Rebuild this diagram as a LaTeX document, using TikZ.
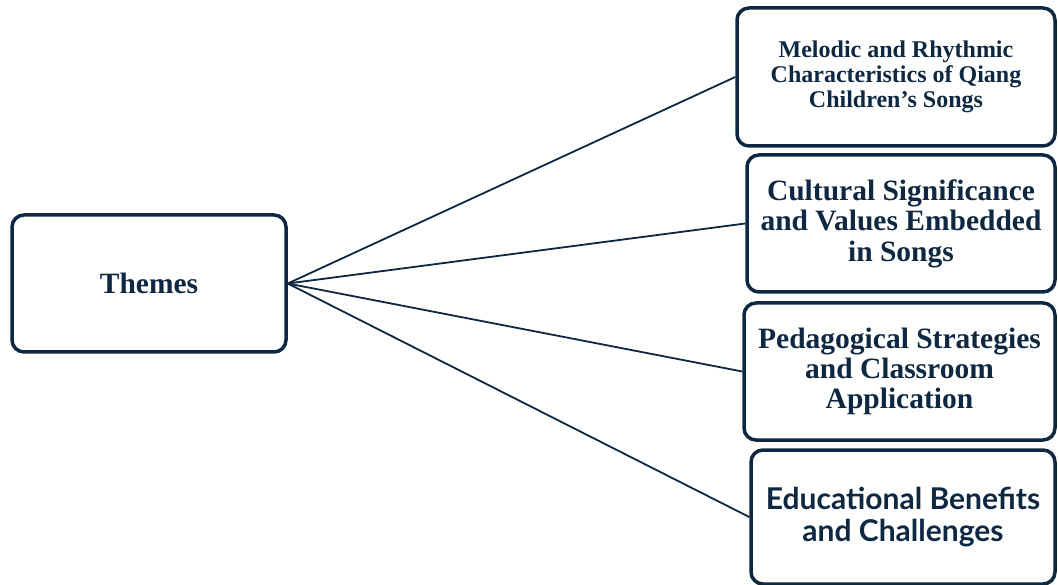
\documentclass[tikz,border=0pt]{standalone}
\usepackage{fontspec}
\setmainfont{Liberation Serif}
\newfontfamily\themesans{Lato}
\definecolor{themenavy}{HTML}{0E2841}

\begin{document}
\begin{tikzpicture}[x=1pt,y=-1pt,
    box/.style={draw=themenavy,line width=3.5pt,rounded corners=12pt,align=center,text=themenavy,inner sep=0pt},
    link/.style={draw=themenavy,line width=1.8pt}]
            \useasboundingbox (0,0) rectangle (1058,585);

            \node[box,minimum width=274pt,minimum height=137pt,font=\bfseries\fontsize{29.5}{31}\selectfont](themes) at (149,283.5){Themes};

            \node[box,minimum width=318pt,minimum height=138pt,font=\bfseries\fontsize{24}{25}\selectfont](melodic) at (896,77){Melodic and Rhythmic\\Characteristics of Qiang\\Children’s Songs};
            \node[box,minimum width=308pt,minimum height=137pt,font=\bfseries\fontsize{29.5}{30.5}\selectfont](cultural) at (901,223.5){Cultural Significance\\and Values Embedded\\in Songs};
            \node[box,minimum width=311pt,minimum height=137pt,font=\bfseries\fontsize{29.5}{30}\selectfont](pedagogy) at (899.5,371.5){Pedagogical Strategies\\and Classroom\\Application};
            \node[box,minimum width=304pt,minimum height=134pt,font=\themesans\bfseries\fontsize{30}{32}\selectfont](benefits) at (903,517){Educational Benefits\\and Challenges};

            \draw[link](themes.east)--(melodic.west);
            \draw[link](themes.east)--(cultural.west);
            \draw[link](themes.east)--(pedagogy.west);
            \draw[link](themes.east)--(benefits.west);
        \end{tikzpicture}
\end{document}
